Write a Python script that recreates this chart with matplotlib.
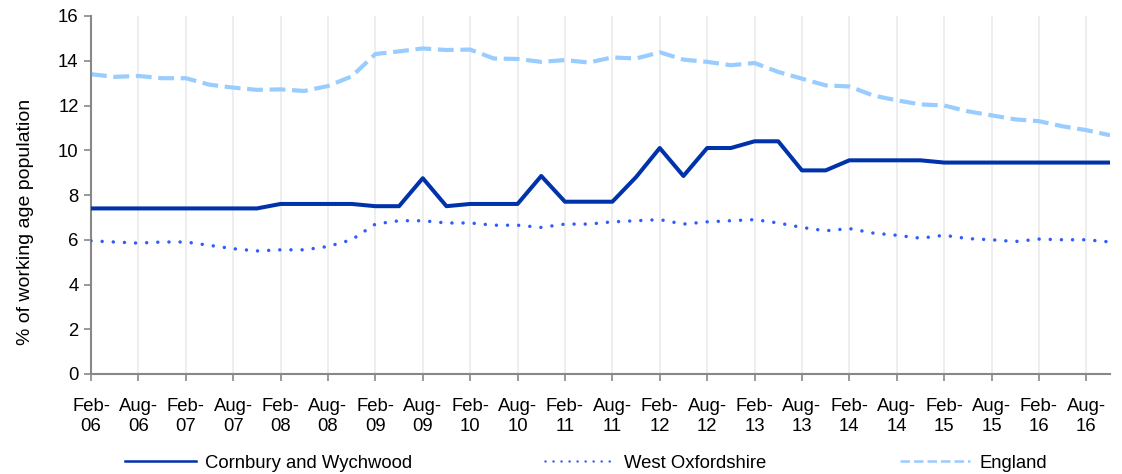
import matplotlib
matplotlib.use("Agg")
import matplotlib.pyplot as plt
import numpy as np

plt.rcParams['font.family'] = ['Liberation Sans', 'DejaVu Sans']

tick_labels = []
for yr in range(6, 17):
    tick_labels += [f"Feb-\n{yr:02d}", f"Aug-\n{yr:02d}"]

cornbury = [7.4, 7.4, 7.4, 7.4, 7.4, 7.4, 7.4, 7.4, 7.6, 7.6, 7.6, 7.6,
            7.5, 7.5, 8.75, 7.5, 7.6, 7.6, 7.6, 8.85, 7.7, 7.7, 7.7, 8.8,
            10.1, 8.85, 10.1, 10.1, 10.4, 10.4, 9.1, 9.1, 9.55, 9.55, 9.55, 9.55,
            9.45, 9.45, 9.45, 9.45, 9.45, 9.45, 9.45, 9.45]
west_oxon = [5.95, 5.9, 5.85, 5.9, 5.9, 5.75, 5.6, 5.5, 5.55, 5.55, 5.7, 6.0,
             6.7, 6.85, 6.85, 6.75, 6.75, 6.65, 6.65, 6.55, 6.7, 6.7, 6.8, 6.85,
             6.9, 6.7, 6.8, 6.85, 6.9, 6.75, 6.55, 6.4, 6.5, 6.3, 6.2, 6.07,
             6.2, 6.05, 6.0, 5.92, 6.03, 6.0, 6.0, 5.9]
england = [13.4, 13.28, 13.32, 13.22, 13.22, 12.93, 12.8, 12.7, 12.72, 12.65, 12.87, 13.3,
           14.3, 14.42, 14.55, 14.48, 14.5, 14.1, 14.08, 13.95, 14.03, 13.92, 14.15, 14.1,
           14.38, 14.05, 13.95, 13.8, 13.9, 13.5, 13.2, 12.9, 12.85, 12.45, 12.23, 12.05,
           12.0, 11.74, 11.56, 11.38, 11.3, 11.07, 10.9, 10.67]

x = np.arange(len(cornbury))
FS = 13.3

fig = plt.figure(figsize=(11.22, 4.74), dpi=100)
ax = fig.add_axes([91/1122, (474-374)/474, (1110-91)/1122, (374-16)/474])

ax.plot(x, england, color='#99CCFF', lw=3.0, linestyle=(0, (3.8, 1.6)),
        label='England', zorder=2)
ax.plot(x, west_oxon, color='#2E5CFF', lw=2.5, linestyle=(0, (0.01, 3.2)),
        dash_capstyle='round', label='West Oxfordshire', zorder=3)
ax.plot(x, cornbury, color='#0033AA', lw=2.9, label='Cornbury and Wychwood', zorder=4)

ax.set_xlim(0, len(x) - 1)
ax.set_ylim(0, 16)
ax.set_yticks(range(0, 17, 2))
ax.set_xticks(np.arange(0, len(x), 2))
ax.set_xticklabels(tick_labels, fontsize=FS, linespacing=1.25)
ax.tick_params(axis='y', labelsize=FS, length=5, width=1.2, color='#888888', pad=4)
ax.tick_params(axis='x', length=5, width=1.2, color='#888888', pad=12)
ax.grid(axis='x', color='#EBEBEB', lw=1.2)
ax.set_axisbelow(True)
for s in ['top', 'right']:
    ax.spines[s].set_visible(False)
for s in ['left', 'bottom']:
    ax.spines[s].set_color('#888888')
    ax.spines[s].set_linewidth(1.5)
ax.set_ylabel('% of working age population', fontsize=14, va='center')
ax.yaxis.set_label_coords((26 - 91) / 1019, (374 - 222) / 358)

h, l = ax.get_legend_handles_labels()
order = [2, 1, 0]
leg = fig.legend([h[i] for i in order], [l[i] for i in order], loc='center',
                 bbox_to_anchor=(586/1122, (474-463)/474), ncol=3, frameon=False,
                 fontsize=FS, handlelength=3.8, handletextpad=0.5, columnspacing=7.2)
for line in leg.get_lines():
    line.set_linewidth(1.8)

fig.savefig('out.png', dpi=100)
